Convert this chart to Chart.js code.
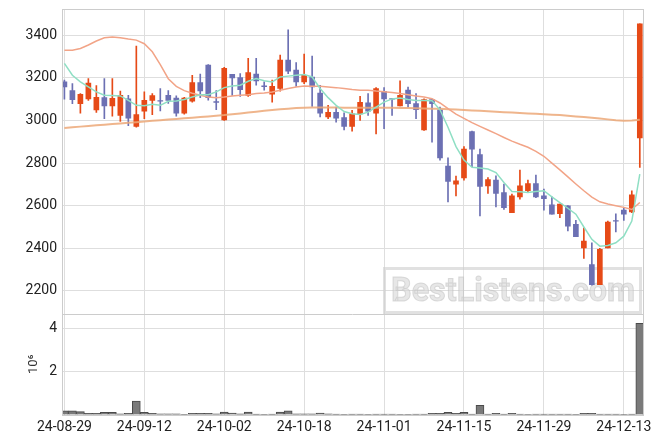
<!DOCTYPE html>
<html>
<head>
<meta charset="utf-8">
<script src="https://cdn.jsdelivr.net/npm/chart.js@4.4.1/dist/chart.umd.min.js"></script>
<style>
  html, body { margin: 0; padding: 0; background: #fff; }
</style>
</head>
<body>
<canvas id="stockChart" width="663" height="444"></canvas>
<script>
// trading days (yy-mm-dd)
const dates = ['24-08-29','24-08-30','24-09-02','24-09-03','24-09-04','24-09-05','24-09-06','24-09-09','24-09-10','24-09-11',
  '24-09-12','24-09-13','24-09-19','24-09-20','24-09-23','24-09-24','24-09-25','24-09-26','24-09-27','24-09-30',
  '24-10-02','24-10-04','24-10-07','24-10-08','24-10-10','24-10-11','24-10-14','24-10-15','24-10-16','24-10-17',
  '24-10-18','24-10-21','24-10-22','24-10-23','24-10-24','24-10-25','24-10-28','24-10-29','24-10-30','24-10-31',
  '24-11-01','24-11-04','24-11-05','24-11-06','24-11-07','24-11-08','24-11-11','24-11-12','24-11-13','24-11-14',
  '24-11-15','24-11-18','24-11-19','24-11-20','24-11-21','24-11-22','24-11-25','24-11-26','24-11-27','24-11-28',
  '24-11-29','24-12-02','24-12-03','24-12-04','24-12-05','24-12-06','24-12-09','24-12-10','24-12-11','24-12-12',
  '24-12-13','24-12-16','24-12-17'];

const openPrices = [3181,3140,3079,3101,3049,3107,3068,3024,3102,2972,
  3044,3094,3093,3118,3105,3034,3091,3178,3260,3088,
  3003,3216,3201,3117,3217,3162,3123,3150,3283,3236,
  3181,3204,3129,3016,3038,3013,2972,3031,3083,3034,
  3137,3103,3068,3142,3079,2956,3098,3050,2786,2701,
  2730,2948,2840,2693,2720,2662,2567,2641,2670,2704,
  2646,2604,2563,2599,2512,2402,2324,2229,2402,2530,
  2579,2571,2918];
const highPrices = [3189,3173,3126,3197,3164,3197,3197,3138,3118,3349,
  3134,3126,3150,3140,3115,3108,3212,3217,3262,3140,
  3249,3216,3220,3291,3291,3181,3189,3307,3425,3271,
  3311,3302,3165,3071,3063,3036,3047,3113,3126,3154,
  3154,3104,3186,3157,3126,3102,3100,3063,2824,2739,
  2877,2950,2866,2732,2740,2701,2654,2767,2720,2744,
  2678,2641,2607,2600,2531,2496,2426,2400,2528,2562,
  2588,2670,3453];
const lowPrices = [3100,3079,3034,3094,3038,3008,3020,2995,2976,2968,
  3008,3027,3045,3080,3020,3029,3086,3107,3095,3050,
  3000,3118,3113,3113,3165,3142,3086,3137,3220,3160,
  3173,3066,3016,3008,2992,2955,2950,3000,3024,2937,
  2961,3024,3068,3063,3008,2953,2898,2814,2618,2646,
  2720,2783,2552,2657,2594,2583,2567,2630,2662,2638,
  2579,2560,2544,2481,2454,2352,2227,2229,2402,2477,
  2531,2567,2780];
const closePrices = [3157,3098,3123,3175,3109,3068,3104,3118,3011,3028,
  3094,3117,3091,3094,3034,3105,3178,3138,3107,3085,
  3244,3200,3145,3225,3186,3158,3160,3283,3231,3181,
  3212,3157,3034,3038,3011,2972,3031,3085,3044,3150,
  3101,3100,3118,3079,3050,3098,3079,2824,2714,2717,
  2866,2865,2690,2722,2657,2591,2646,2693,2704,2641,
  2633,2560,2607,2504,2454,2434,2229,2395,2523,2527,
  2560,2651,3453];

// moving averages
const ma5 = [3268,3212,3181,3157,3134,3118,3117,3115,3094,3071,
  3069,3076,3071,3090,3091,3098,3110,3121,3121,3134,
  3154,3162,3165,3184,3197,3186,3181,3204,3208,3212,
  3216,3204,3150,3107,3071,3042,3031,3028,3039,3063,
  3086,3101,3105,3098,3094,3094,3093,3050,2968,2877,
  2814,2780,2777,2772,2755,2709,2666,2665,2662,2666,
  2670,2641,2614,2588,2560,2500,2442,2410,2413,2426,
  2457,2528,2748];
const ma20 = [3330,3330,3338,3354,3373,3388,3392,3388,3382,3377,
  3360,3322,3262,3196,3160,3140,3128,3118,3110,3107,
  3110,3115,3118,3121,3126,3129,3134,3142,3150,3157,
  3162,3160,3160,3157,3154,3150,3145,3142,3142,3138,
  3135,3131,3126,3121,3115,3110,3102,3082,3055,3030,
  3010,2990,2972,2955,2938,2920,2903,2888,2874,2855,
  2832,2800,2768,2735,2702,2670,2640,2618,2608,2600,
  2592,2582,2615];
const ma120 = [2965,2968,2971,2974,2977,2980,2983,2986,2989,2992,
  2995,2998,3001,3004,3007,3010,3013,3016,3019,3022,
  3025,3029,3033,3037,3041,3045,3049,3052,3055,3058,
  3060,3061,3061,3061,3061,3060,3060,3060,3060,3060,
  3060,3059,3058,3058,3057,3056,3055,3055,3053,3051,
  3049,3047,3045,3043,3041,3039,3037,3035,3033,3031,
  3029,3027,3025,3022,3019,3016,3013,3009,3005,3001,
  2998,3000,3003];

// volume, millions of shares
const volumes = [0.19,0.19,0.16,0.08,0.08,0.12,0.12,0.05,0.08,0.65,
  0.12,0.08,0.05,0.05,0.05,0.01,0.08,0.08,0.08,0.05,
  0.14,0.09,0.05,0.14,0.04,0.01,0.04,0.14,0.19,0.05,
  0.05,0.05,0.09,0.05,0.04,0.01,0.04,0.04,0.01,0.04,
  0.04,0.04,0.01,0.01,0.04,0.04,0.08,0.08,0.12,0.08,
  0.12,0.04,0.45,0.04,0.08,0.04,0.08,0.04,0.01,0.04,
  0.04,0.04,0.04,0.04,0.01,0.08,0.08,0.04,0.04,0.04,
  0.01,0.04,4.26];

const dateTicks = [0, 10, 20, 30, 40, 50, 60, 70];
const priceTicks = [2200, 2400, 2600, 2800, 3000, 3200, 3400];
const volumeTicks = [0, 2, 4];

const upColor = '#e64a17';
const downColor = '#6c70b3';
const candleColors = openPrices.map((o, i) => closePrices[i] >= o ? upColor : downColor);

Chart.defaults.font.family = 'Roboto, "DejaVu Sans", sans-serif';
Chart.defaults.font.size = 14;
Chart.defaults.color = '#222';

// frame around the two panels + watermark
const framePlugin = {
    id: 'frame',
    beforeDatasetsDraw(chart) {
        const ctx = chart.ctx;
        ctx.save();
        ctx.strokeStyle = 'rgba(205,205,205,0.6)';
        ctx.lineWidth = 3;
        ctx.strokeRect(384.5, 268.5, 256, 44);
        ctx.font = 'bold 33px Roboto, "DejaVu Sans", sans-serif';
        ctx.fillStyle = 'rgba(215,215,215,0.6)';
        ctx.strokeStyle = 'rgba(190,190,190,0.5)';
        ctx.lineWidth = 1;
        ctx.textBaseline = 'alphabetic';
        ctx.fillText('BestListens.com', 391, 301, 244);
        ctx.strokeText('BestListens.com', 391, 301, 244);
        ctx.restore();
    },
    afterDraw(chart) {
        const a = chart.chartArea;
        const ctx = chart.ctx;
        const py = Math.round(chart.scales.y.bottom) + 0.5;
        ctx.save();
        ctx.strokeStyle = '#cccccc';
        ctx.lineWidth = 1;
        ctx.strokeRect(Math.round(a.left) + 0.5, Math.round(a.top) + 0.5,
            Math.round(a.right - a.left), Math.round(a.bottom - a.top));
        ctx.beginPath();
        ctx.moveTo(a.left, py);
        ctx.lineTo(a.right, py);
        ctx.stroke();
        ctx.restore();
    }
};

const ctx = document.getElementById('stockChart').getContext('2d');
const stockChart = new Chart(ctx, {
    type: 'bar',
    data: {
        datasets: [
            {
                type: 'line', label: 'MA5', yAxisID: 'y', order: 0,
                data: ma5.map((v, i) => ({x: i, y: v})),
                borderColor: '#8fdfc4', borderWidth: 1.5, pointRadius: 0
            },
            {
                type: 'line', label: 'MA20', yAxisID: 'y', order: 0,
                data: ma20.map((v, i) => ({x: i, y: v})),
                borderColor: '#f2a487', borderWidth: 1.5, pointRadius: 0
            },
            {
                type: 'line', label: 'MA120', yAxisID: 'y', order: 0,
                data: ma120.map((v, i) => ({x: i, y: v})),
                borderColor: 'rgba(236,168,120,0.85)', borderWidth: 2, pointRadius: 0
            },
            {
                label: 'Body', yAxisID: 'y', order: 1, grouped: false,
                data: openPrices.map((o, i) => ({x: i, y: [o, closePrices[i]]})),
                backgroundColor: candleColors, barThickness: 5, borderWidth: 0
            },
            {
                label: 'Wick', yAxisID: 'y', order: 2, grouped: false,
                data: lowPrices.map((l, i) => ({x: i, y: [l, highPrices[i]]})),
                backgroundColor: candleColors, barThickness: 1, borderWidth: 0
            },
            {
                label: 'Volume', yAxisID: 'yv', order: 3, grouped: false,
                data: volumes.map((v, i) => ({x: i, y: v})),
                backgroundColor: '#7a7a7a', borderColor: '#4a4a4a', borderWidth: 1,
                barThickness: 8, borderSkipped: 'bottom'
            }
        ]
    },
    options: {
        responsive: false,
        animation: false,
        layout: { padding: { top: 9, right: 20, bottom: 0, left: 0 } },
        plugins: { legend: { display: false }, tooltip: { enabled: false } },
        scales: {
            x: {
                type: 'linear',
                offset: false,
                min: -0.3,
                max: 72.4,
                grid: { color: '#dedede', drawTicks: false, offset: false },
                border: { color: '#cccccc' },
                afterBuildTicks: (s) => { s.ticks = dateTicks.map(v => ({value: v})); },
                ticks: {
                    padding: 4,
                    maxRotation: 0,
                    autoSkip: false,
                    callback: (v) => dates[v]
                },
                afterFit: (s) => { s.height = 29; s.paddingLeft = 0; s.paddingRight = 0; }
            },
            yv: {
                position: 'left',
                stack: 'panels',
                stackWeight: 1,
                min: 0,
                max: 4.72,
                grid: { color: '#dedede', drawTicks: false },
                border: { color: '#cccccc' },
                title: {
                    display: true,
                    text: '10⁶',
                    font: { size: 13 },
                    color: '#333',
                    padding: { top: 26, bottom: 0 }
                },
                afterBuildTicks: (s) => { s.ticks = volumeTicks.map(v => ({value: v})); },
                ticks: {
                    padding: 5,
                    callback: (v) => v === 0 ? '' : String(v)
                },
                afterFit: (s) => { s.width = 62; s.paddingTop = 0; s.paddingBottom = 0; }
            },
            y: {
                position: 'left',
                stack: 'panels',
                stackWeight: 3,
                min: 2094,
                max: 3523,
                grid: { color: '#dedede', drawTicks: false },
                border: { color: '#cccccc' },
                afterBuildTicks: (s) => { s.ticks = priceTicks.map(v => ({value: v})); },
                ticks: {
                    padding: 5,
                    callback: (v) => String(v)
                },
                afterFit: (s) => { s.width = 62; s.paddingTop = 0; s.paddingBottom = 0; }
            }
        }
    },
    plugins: [framePlugin]
});
</script>
</body>
</html>
